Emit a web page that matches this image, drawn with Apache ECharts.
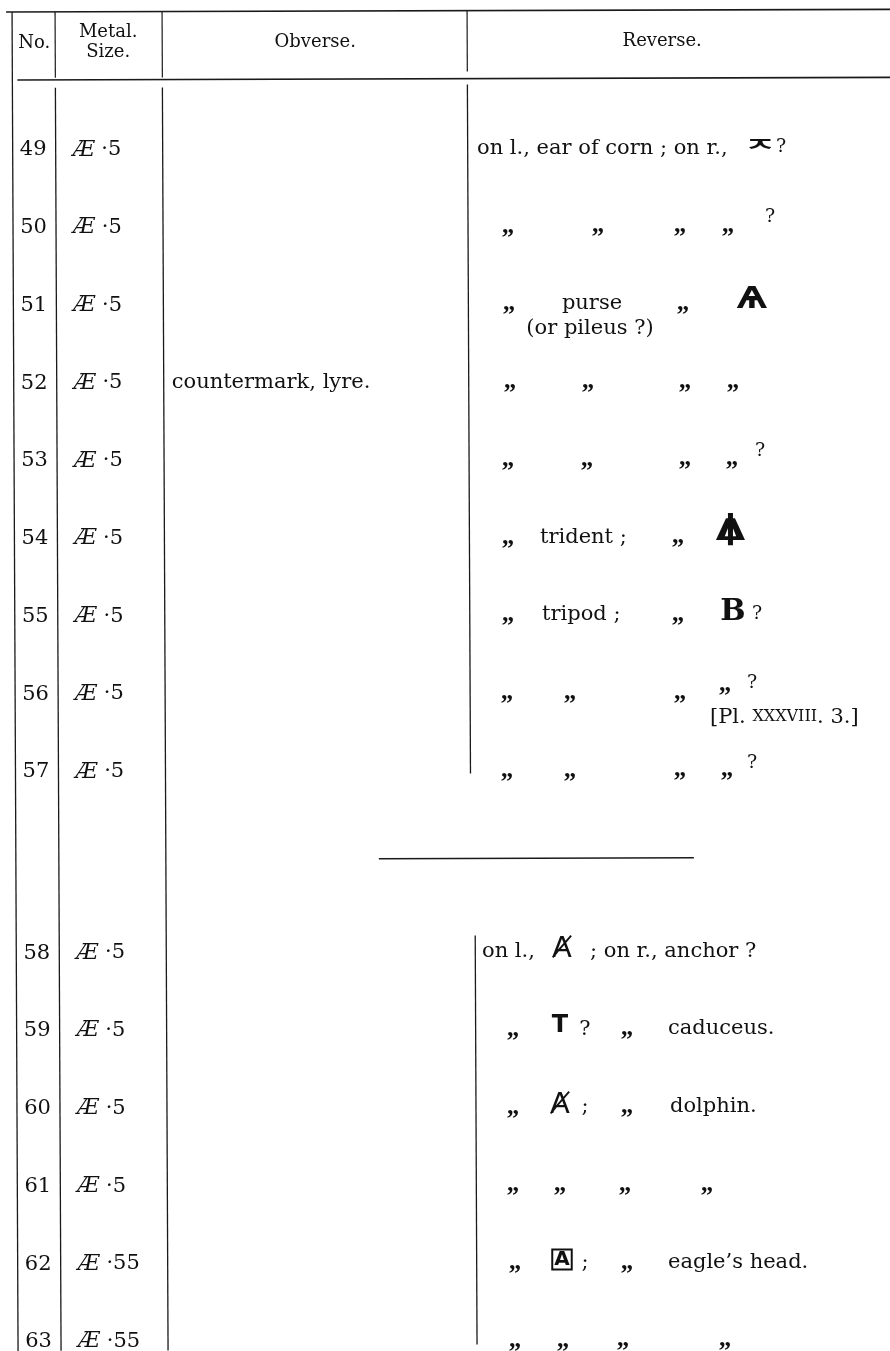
<!DOCTYPE html>
<html>
<head>
<meta charset="utf-8">
<script src="https://cdn.jsdelivr.net/npm/echarts/dist/echarts.min.js"></script>
<style>
html,body{margin:0;padding:0;background:#fff;}
#chart{width:890px;height:1351px;}
</style>
</head>
<body>
<div id="chart"></div>
<script>
// ---------------- DATA ----------------
const headers = ['No.', 'Metal.\nSize.', 'Obverse.', 'Reverse.'];
const numbers = ['49','50','51','52','53','54','55','56','57','58','59','60','61','62','63'];
const metals  = ['Æ','Æ','Æ','Æ','Æ','Æ','Æ','Æ','Æ','Æ','Æ','Æ','Æ','Æ','Æ'];
const sizes   = ['·5','·5','·5','·5','·5','·5','·5','·5','·5','·5','·5','·5','·5','·55','·55'];
const obverse = ['','','','countermark, lyre.','','','','','','','','','','',''];
const sectionOf = [0,0,0,0,0,0,0,0,0,1,1,1,1,1,1];
const reverse = [
  ['on l., ear of corn ; on r.,', 'ㅈ', '?'],
  ['„', '„', '„', '„', '?'],
  ['„', 'purse', '(or pileus ?)', '„', 'Ѧ'],
  ['„', '„', '„', '„'],
  ['„', '„', '„', '„', '?'],
  ['„', 'trident ;', '„', '⍋'],
  ['„', 'tripod ;', '„', 'B', '?'],
  ['„', '„', '„', '„', '?', '[Pl. xxxviii. 3.]'],
  ['„', '„', '„', '„', '?'],
  ['on l.,', 'Ⱥ', '; on r., anchor ?'],
  ['„', 'T', '?', '„', 'caduceus.'],
  ['„', 'Ⱥ', ';', '„', 'dolphin.'],
  ['„', '„', '„', '„'],
  ['„', 'A', ';', '„', 'eagle’s head.'],
  ['„', '„', '„', '„']
];

// ---------------- LAYOUT (positions / styles, not data) ----------------
const SECTION_GAP = 1.33;          // extra line units between the two groups
const HEADER_LINE = -1.376;
const SEPARATOR_LINE = 9.13;
const Y_MIN = -150 / 77.75, Y_MAX = (1351 - 150) / 77.75;
const S_X = 0.0045, S_Y = 0.003;   // slight tilt of the scanned page

const SERIF = 'DejaVu Serif';
const SANS = 'DejaVu Sans';
const INK = '#111';
const styles = {
  txt:  {fontFamily: SERIF, fontSize: 21},
  dit:  {fontFamily: 'Liberation Serif', fontSize: 25, fontWeight: 'bold'},
  q:    {fontFamily: SERIF, fontSize: 19},
  k:    {fontFamily: 'Noto Sans CJK KR', fontSize: 30, fontWeight: 'bold', sx: 1.15, sy: 0.62},
  yus:  {fontFamily: SANS, fontSize: 31, fontWeight: 'bold'},
  apl:  {fontFamily: 'DejaVu Sans Mono', fontSize: 30, fontWeight: 'bold', sx: 1.7, sy: 1},
  bb:   {fontFamily: SERIF, fontSize: 30, fontWeight: 'bold'},
  mono: {fontFamily: SANS, fontSize: 29},
  tt:   {fontFamily: SANS, fontSize: 24, fontWeight: 'bold'},
  box:  {fontFamily: SANS, fontSize: 20, fontWeight: 'bold', borderColor: INK, borderWidth: 2, padding: [1, 2, -1, 2]},
  pl:   {fontFamily: SERIF, fontSize: 21, smallcaps: true}
};
// [x, dy, style, align]
const reverseLayout = [
  [[477,0,'txt','left'],[760,-4,'k'],[781,-1,'q']],
  [[508,0,'dit'],[598,0,'dit'],[680,0,'dit'],[728,0,'dit'],[770,-8,'q']],
  [[509,0,'dit'],[592,0,'txt'],[590,25,'txt'],[683,0,'dit'],[752,-3,'yus']],
  [[510,0,'dit'],[588,0,'dit'],[685,0,'dit'],[733,0,'dit']],
  [[508,0,'dit'],[587,0,'dit'],[685,0,'dit'],[732,0,'dit'],[760,-8,'q']],
  [[508,0,'dit'],[540,0,'txt','left'],[678,0,'dit'],[730,-4,'apl']],
  [[508,0,'dit'],[542,0,'txt','left'],[678,0,'dit'],[733,-2,'bb'],[757,0,'q']],
  [[507,0,'dit'],[570,0,'dit'],[680,0,'dit'],[725,-8,'dit'],[752,-9,'q'],[710,25,'pl','left']],
  [[507,0,'dit'],[570,0,'dit'],[680,0,'dit'],[727,0,'dit'],[752,-7,'q']],
  [[482,0,'txt','left'],[562,-2,'mono'],[590,0,'txt','left']],
  [[513,0,'dit'],[560,-3,'tt'],[585,0,'txt'],[627,0,'dit'],[668,0,'txt','left']],
  [[513,0,'dit'],[560,-2,'mono'],[585,0,'txt'],[627,0,'dit'],[670,0,'txt','left']],
  [[513,0,'dit'],[560,0,'dit'],[625,0,'dit'],[707,0,'dit']],
  [[515,0,'dit'],[562,-3,'box'],[585,0,'txt'],[627,0,'dit'],[668,0,'txt','left']],
  [[515,0,'dit'],[563,0,'dit'],[623,0,'dit'],[725,0,'dit']]
];
// table rules in page pixels (un-tilted): [x1,y1,x2,y2,width]
const rules = [
  [6,12,890,12,1.6],
  [17,80,890,80,1.6],
  [12,12,12,1351,1.3],
  [55,12,55,78,1.2],[55,88,55,1351,1.3],
  [162,12,162,78,1.2],[162,88,162,1351,1.3],
  [467,12,467,73,1.2],[467,86,467,775,1.3],
  [471,937,471,1346,1.3]
];
const separatorX = [375, 690];

function lineOf(i) { return i + (sectionOf[i] ? SECTION_GAP : 0); }
function tilt(p) { return [p[0] + S_X * p[1], p[1] - S_Y * p[0]]; }

function textEl(text, pos, st, align, extra) {
  const style = Object.assign({
    text: text, fill: INK, align: align || 'center', verticalAlign: 'middle'
  }, st);
  delete style.sx; delete style.sy; delete style.smallcaps;
  const el = {type: 'text', x: pos[0], y: pos[1], style: style};
  if (st.sx) { el.scaleX = st.sx; el.scaleY = st.sy; }
  return Object.assign(el, extra || {});
}

function smallCaps(text, st) {
  const rich = {sc: {fontFamily: st.fontFamily, fontSize: Math.round(st.fontSize * 0.78), fill: INK}};
  const t = text.replace(/\b([ivxlc]+)\./g, (m, r) => '{sc|' + r.toUpperCase() + '}.');
  return {t: t, rich: rich};
}

function renderRow(params, api) {
  const i = params.dataIndex;
  const line = api.value(1);
  const at = (x, dy) => {
    const p = api.coord([x, line]);
    return tilt([p[0], p[1] + (dy || 0)]);
  };
  const kids = [];
  kids.push(textEl(numbers[i], at(32.5), styles.txt, 'center'));
  const mp = at(72);
  kids.push({
    type: 'text', x: mp[0], y: mp[1],
    style: {
      text: '{ae|' + metals[i] + '} ' + sizes[i],
      fill: INK, fontFamily: SERIF, fontSize: 21, align: 'left', verticalAlign: 'middle',
      rich: {ae: {fontFamily: SERIF, fontSize: 22, fontStyle: 'italic', fill: INK}}
    }
  });
  if (obverse[i]) kids.push(textEl(obverse[i], at(170), styles.txt, 'left'));
  const segs = reverse[i], lay = reverseLayout[i];
  segs.forEach((s, k) => {
    const L = lay[k];
    const st = styles[L[2]];
    const p = api.coord([L[0], line]);
    const pos = [p[0], p[1] + L[1] - S_Y * p[0]];
    if (st.smallcaps) {
      const sc = smallCaps(s, st);
      kids.push({type: 'text', x: pos[0], y: pos[1], style: {
        text: sc.t, rich: sc.rich, fill: INK, fontFamily: st.fontFamily, fontSize: st.fontSize,
        align: L[3] || 'center', verticalAlign: 'middle'}});
    } else {
      kids.push(textEl(s, pos, st, L[3] || 'center'));
    }
  });
  return {type: 'group', children: kids};
}

function renderHeader(params, api) {
  const xs = [34, 108, 315, 662];
  const kids = headers.map((h, k) => {
    const p = tilt(api.coord([xs[k], HEADER_LINE]));
    return {type: 'text', x: p[0], y: p[1], style: {
      text: h, fill: INK, fontFamily: SERIF, fontSize: 18, lineHeight: 20,
      align: 'center', verticalAlign: 'middle'}};
  });
  return {type: 'group', children: kids};
}

function renderRules(params, api) {
  const kids = rules.map(r => {
    const a = tilt([r[0], r[1]]), b = tilt([r[2], r[3]]);
    return {type: 'line', shape: {x1: a[0], y1: a[1], x2: b[0], y2: b[1]},
      style: {stroke: '#1a1a1a', lineWidth: r[4]}};
  });
  const s1 = tilt(api.coord([separatorX[0], SEPARATOR_LINE]));
  const s2 = tilt(api.coord([separatorX[1], SEPARATOR_LINE]));
  kids.push({type: 'line', shape: {x1: s1[0], y1: s1[1], x2: s2[0], y2: s2[1]},
    style: {stroke: '#1a1a1a', lineWidth: 1.6}});
  return {type: 'group', children: kids};
}

const chart = echarts.init(document.getElementById('chart'), null, {renderer: 'canvas'});
chart.setOption({
  backgroundColor: '#ffffff',
  animation: false,
  grid: {left: 0, right: 0, top: 0, bottom: 0},
  xAxis: {type: 'value', min: 0, max: 890, show: false},
  yAxis: {type: 'value', min: Y_MIN, max: Y_MAX, inverse: true, show: false},
  series: [
    {type: 'custom', name: 'rules', coordinateSystem: 'cartesian2d', renderItem: renderRules,
      data: [[0, 0]], silent: true, clip: false},
    {type: 'custom', name: 'header', coordinateSystem: 'cartesian2d', renderItem: renderHeader,
      data: [[0, HEADER_LINE]], silent: true, clip: false},
    {type: 'custom', name: 'coins', coordinateSystem: 'cartesian2d', renderItem: renderRow,
      data: numbers.map((n, i) => [0, lineOf(i)]), silent: true, clip: false}
  ]
});
</script>
</body>
</html>
